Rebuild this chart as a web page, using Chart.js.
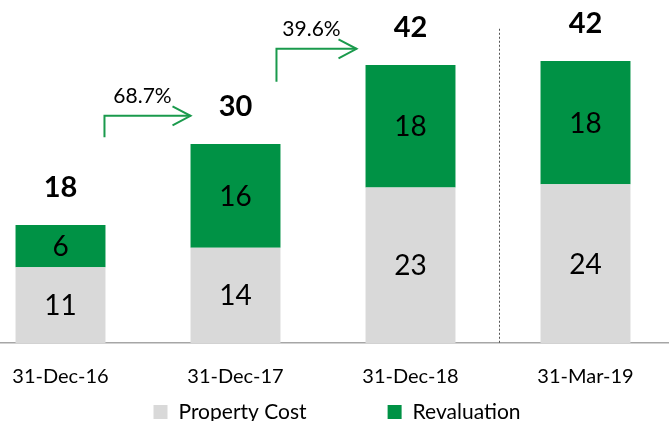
<!DOCTYPE html>
<html>
<head>
<meta charset="utf-8">
<script src="https://cdn.jsdelivr.net/npm/chart.js@4.4.0/dist/chart.umd.min.js"></script>
<style>
    html, body { margin: 0; padding: 0; background: #fff; overflow: hidden; }
    #wrap { position: absolute; left: -27px; top: 0; width: 728px; height: 421px; }
</style>
</head>
<body>
<div id="wrap"><canvas id="chart" width="728" height="421"></canvas></div>
<script>
// Data
const categories = ['31-Dec-16', '31-Dec-17', '31-Dec-18', '31-Mar-19'];
const propertyCost = [11.3, 14.2, 23.2, 23.7];
const revaluation = [6.3, 15.5, 18.3, 18.4];
const growthLabels = ['68.7%', '39.6%'];

const GREEN = '#009245';
const GREY = '#d9d9d9';
const ARROW = '#1a9a4c';
const FONT = 'Lato';

// Arrow layout (y in data units, x offsets in px from bar edges)
const arrows = [
    { from: 0, base: 30.7, level: 33.9, startOff: -1, endOff: 0 },
    { from: 1, base: 39.0, level: 43.9, startOff: -4, endOff: -9 }
];

const overlayPlugin = {
    id: 'overlay',
    beforeDatasetsDraw(chart) {
        const ctx = chart.ctx;
        const xs = chart.scales.x, ys = chart.scales.y;
        // dotted separator before the last column
        const sx = Math.round((xs.getPixelForValue(2) + xs.getPixelForValue(3)) / 2) + 1.5;
        ctx.save();
        ctx.strokeStyle = '#555';
        ctx.lineWidth = 1;
        ctx.setLineDash([2, 2]);
        ctx.beginPath();
        ctx.moveTo(sx, ys.getPixelForValue(46.9));
        ctx.lineTo(sx, ys.getPixelForValue(0));
        ctx.stroke();
        ctx.restore();
    },
    afterDatasetsDraw(chart) {
        const ctx = chart.ctx;
        const ys = chart.scales.y;
        const metaCost = chart.getDatasetMeta(0);
        const metaRev = chart.getDatasetMeta(1);
        ctx.save();
        ctx.textAlign = 'center';
        ctx.textBaseline = 'middle';
        ctx.fillStyle = '#000';

        // values inside the segments
        ctx.font = '28px ' + FONT;
        [metaCost, metaRev].forEach((meta, d) => {
            meta.data.forEach((bar, i) => {
                const v = chart.data.datasets[d].data[i];
                ctx.fillText(Math.round(v), bar.x, (bar.y + bar.base) / 2 + 1);
            });
        });

        // totals above the bars
        ctx.font = 'bold 29px ' + FONT;
        metaRev.data.forEach((bar, i) => {
            const total = propertyCost[i] + revaluation[i];
            ctx.fillText(Math.round(total), bar.x, bar.y - 37);
        });

        // growth arrows
        ctx.strokeStyle = ARROW;
        ctx.lineWidth = 2;
        arrows.forEach((a, k) => {
            const b0 = metaRev.data[a.from];
            const b1 = metaRev.data[a.from + 1];
            const x0 = b0.x + b0.width / 2 + a.startOff;
            const x1 = b1.x - b1.width / 2 + a.endOff;
            const yb = ys.getPixelForValue(a.base);
            const yl = ys.getPixelForValue(a.level);
            ctx.beginPath();
            ctx.moveTo(x0, yb);
            ctx.lineTo(x0, yl);
            ctx.lineTo(x1, yl);
            ctx.stroke();
            ctx.beginPath();
            ctx.moveTo(x1 - 18, yl - 9.5);
            ctx.lineTo(x1, yl);
            ctx.lineTo(x1 - 18, yl + 9.5);
            ctx.stroke();

            ctx.font = '21px ' + FONT;
            ctx.fillStyle = '#000';
            ctx.fillText(growthLabels[k], (x0 + x1) / 2 - 5, yl - 20);
        });

        // legend (wide gap between the two entries)
        ctx.font = '21px ' + FONT;
        ctx.textAlign = 'left';
        const sets = chart.data.datasets;
        const boxSize = 14, textGap = 11, itemGap = 81;
        const widths = sets.map(ds => boxSize + textGap + ctx.measureText(ds.label).width);
        const totalW = widths.reduce((s, w) => s + w, 0) + itemGap * (sets.length - 1);
        let lx = chart.width / 2 - totalW / 2;
        const ly = 412;
        sets.forEach((ds, i) => {
            ctx.fillStyle = ds.backgroundColor;
            ctx.fillRect(lx, ly - boxSize / 2, boxSize, boxSize);
            ctx.fillStyle = '#000';
            ctx.fillText(ds.label, lx + boxSize + textGap, ly);
            lx += widths[i] + itemGap;
        });
        ctx.restore();
    }
};

new Chart(document.getElementById('chart'), {
    type: 'bar',
    data: {
        labels: categories,
        datasets: [
            {
                label: 'Property Cost',
                data: propertyCost,
                backgroundColor: GREY,
                categoryPercentage: 1,
                barPercentage: 0.514
            },
            {
                label: 'Revaluation',
                data: revaluation,
                backgroundColor: GREEN,
                categoryPercentage: 1,
                barPercentage: 0.514
            }
        ]
    },
    options: {
        responsive: false,
        animation: false,
        layout: { padding: { top: 8, bottom: 0, left: 0, right: 0 } },
        plugins: {
            tooltip: { enabled: false },
            legend: { display: false }
        },
        scales: {
            x: {
                stacked: true,
                grid: { display: false, drawTicks: false },
                border: { display: true, color: '#a6a6a6', width: 1.5 },
                ticks: {
                    font: { family: FONT, size: 20 },
                    color: '#000',
                    padding: 22,
                    maxRotation: 0
                },
                afterFit(scale) { scale.height = 78; }
            },
            y: {
                stacked: true,
                display: false,
                min: 0,
                max: 50
            },
            spacer: {
                position: 'right',
                grid: { display: false },
                border: { display: false },
                ticks: { display: false },
                afterFit(scale) { scale.width = 28; }
            }
        }
    },
    plugins: [overlayPlugin]
});
</script>
</body>
</html>
